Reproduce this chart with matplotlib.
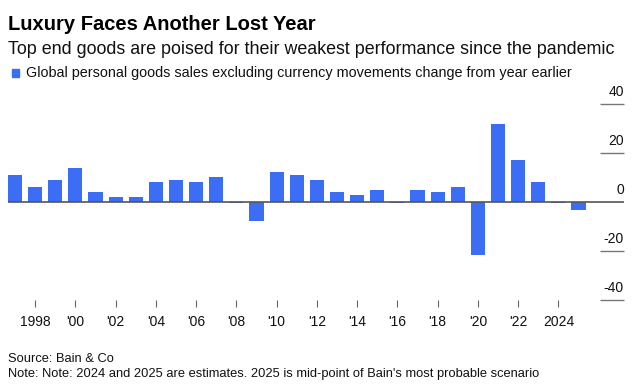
import matplotlib
matplotlib.use("Agg")
import matplotlib.pyplot as plt
from matplotlib.patches import Rectangle

# data (% change, constant currency)
years = list(range(1997, 2026))
growth = [10.9, 6.1, 9.2, 14.1, 4.1, 2.2, 2.2, 8.1, 9.2, 8.1, 10.1, -0.3,
          -7.7, 12.2, 10.9, 9.2, 4.1, 3.1, 5.1, -0.3, 5.1, 4.1, 6.1,
          -21.5, 32.0, 17.2, 8.1, -0.3, -3.2]
tick_years = list(range(1998, 2025, 2))
tick_labels = ["1998"] + ["'%02d" % (y % 100) for y in tick_years[1:-1]] + ["2024"]
y_ticks = [40, 20, 0, -20, -40]

title = "Luxury Faces Another Lost Year"
subtitle = "Top end goods are poised for their weakest performance since the pandemic"
legend_label = "Global personal goods sales excluding currency movements change from year earlier"
source = "Source: Bain & Co"
note = "Note: Note: 2024 and 2025 are estimates. 2025 is mid-point of Bain's most probable scenario"

blue = "#3c6df5"
W, H = 643, 387
plt.rcParams['font.family'] = ['Liberation Sans', 'DejaVu Sans']

fig = plt.figure(figsize=(W / 100, H / 100), dpi=100)
ax = fig.add_axes([8 / W, 1 - 300 / H, (624 - 8) / W, (300 - 104.3) / H])

ax.bar(years, growth, width=0.7, color=blue, zorder=2)
x0, x1 = 1996.65, 2027.26
ax.set_xlim(x0, x1)
ax.set_ylim(-40, 40)

# zero line across, short grid stubs on the right
ax.hlines(0, x0, x1, color="#555555", lw=1.2, zorder=3)
stub = x1 - 24 / 20.125
for v in y_ticks:
    if v != 0:
        ax.hlines(v, stub, x1, color="#777777", lw=1.0, clip_on=False)
    ax.annotate(str(v), xy=(1, v), xycoords=('axes fraction', 'data'),
                xytext=(0, 5.8), textcoords='offset points',
                ha='right', va='baseline', fontsize=10, color="#111111")

for s in ax.spines.values():
    s.set_visible(False)
ax.set_yticks([])
ax.set_xticks(tick_years)
ax.set_xticklabels(tick_labels)
ax.tick_params(axis='x', length=5, width=0.8, color="#666666", pad=6,
               labelsize=10, labelcolor="#111111")

# header
fig.text(8 / W, 1 - 30 / H, title, fontsize=14.5, fontweight='bold',
         va='baseline', ha='left', color="#000000")
fig.text(8 / W, 1 - 54.3 / H, subtitle, fontsize=12.85,
         va='baseline', ha='left', color="#111111")
fig.patches.append(Rectangle((11.7 / W, 1 - 76.7 / H), 7.5 / W, 7.7 / H,
                             transform=fig.transFigure, color=blue))
fig.text(26 / W, 1 - 77.3 / H, legend_label, fontsize=10.35,
         va='baseline', ha='left', color="#111111")

# footer
fig.text(8 / W, 1 - 361.7 / H, source, fontsize=9.3,
         va='baseline', ha='left', color="#111111")
fig.text(8 / W, 1 - 377 / H, note, fontsize=9.3,
         va='baseline', ha='left', color="#111111")

fig.savefig("out.png", dpi=100)
